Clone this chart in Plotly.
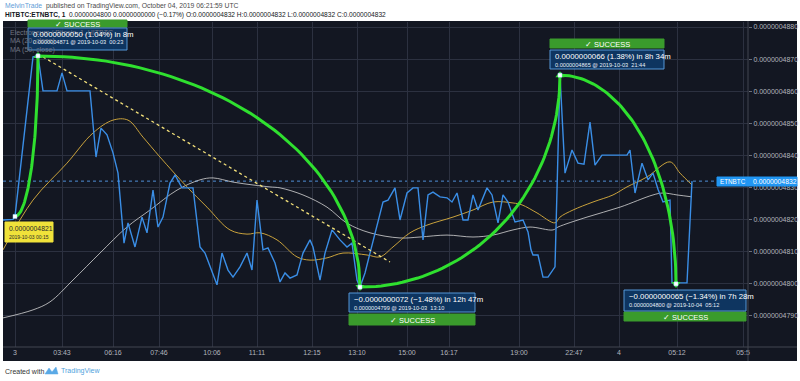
import numpy as np
import plotly.graph_objects as go

# ---------------- data ----------------
# x = bar position on the time axis, prices in units of 1e-10 BTC
price_x = [3, 13, 15, 33, 38, 43, 57, 62, 67, 90, 96, 101, 107, 113, 118, 124, 128, 135, 142, 147,
           153, 158, 163, 170, 175, 182, 193, 200, 205, 217, 222, 228, 233, 240, 247, 252, 257, 263,
           268, 275, 280, 285, 290, 297, 303, 310, 313, 320, 325, 332, 340, 347, 352, 357, 360, 365,
           370, 377, 383, 388, 395, 400, 407, 413, 418, 423, 428, 433, 440, 447, 452, 457, 463, 468,
           473, 478, 487, 492, 498, 503, 508, 515, 523, 528, 531, 533, 538, 543, 548, 555, 560, 565,
           572, 578, 584, 590, 595, 602, 627, 630, 635, 642, 648, 653, 658, 663, 670, 672, 687, 692]
price_e10 = [4819.9, 4820.1, 4821.0, 4870.7, 4871.0, 4860.1, 4860.1, 4865.7, 4860.1, 4860.1, 4839.5,
             4848.5, 4846.4, 4840.8, 4834.5, 4812.7, 4819.0, 4811.5, 4820.8, 4815.9, 4829.2, 4817.7,
             4820.8, 4831.4, 4833.9, 4829.9, 4829.9, 4811.5, 4809.6, 4799.7, 4809.6, 4804.3, 4802.1,
             4805.3, 4809.6, 4804.3, 4826.1, 4810.6, 4811.2, 4806.5, 4800.6, 4803.4, 4801.8, 4802.8,
             4809.6, 4813.7, 4811.5, 4801.2, 4809.6, 4816.8, 4813.7, 4811.5, 4812.7, 4801.2, 4799.0,
             4803.4, 4809.6, 4817.7, 4825.5, 4826.1, 4829.9, 4819.9, 4828.3, 4829.9, 4829.9, 4813.7,
             4827.7, 4828.6, 4827.1, 4826.8, 4825.5, 4828.3, 4819.9, 4819.9, 4827.7, 4823.0, 4829.9,
             4827.7, 4819.0, 4827.7, 4825.5, 4819.3, 4819.9, 4816.2, 4810.6, 4809.0, 4809.0, 4802.1,
             4802.1, 4805.3, 4865.0, 4834.5, 4841.7, 4837.6, 4837.3, 4850.4, 4837.0, 4840.1, 4840.1,
             4841.7, 4828.3, 4837.6, 4832.4, 4834.5, 4829.5, 4825.5, 4826.1, 4800.3, 4800.3, 4832.0]

ma20_x = [3, 33, 67, 93, 113, 128, 143, 160, 187, 207, 230, 247, 260, 277, 297, 310, 327, 343, 367,
          380, 393, 410, 427, 453, 473, 493, 513, 522, 537, 555, 560, 573, 593, 613, 627, 647, 670,
          680, 692]
ma20_e10 = [4810.6, 4826.1, 4837.6, 4847.0, 4851.0, 4851.0, 4845.7, 4839.5, 4830.2, 4823.9, 4816.8,
            4815.5, 4815.9, 4813.7, 4808.4, 4807.4, 4808.1, 4809.6, 4809.0, 4808.4, 4811.5, 4815.9,
            4818.3, 4820.8, 4823.0, 4825.5, 4825.2, 4824.6, 4822.1, 4819.0, 4820.8, 4823.0, 4825.5,
            4827.7, 4830.2, 4833.3, 4838.0, 4834.5, 4830.8]

ma50_x = [3, 33, 50, 73, 100, 127, 150, 177, 200, 213, 233, 253, 270, 280, 303, 327, 347, 370, 400,
          420, 447, 473, 493, 513, 530, 553, 558, 587, 620, 653, 663, 677, 692]
ma50_e10 = [4789.4, 4791.9, 4794.4, 4801.2, 4809.6, 4817.7, 4823.0, 4829.2, 4832.4, 4833.0, 4831.7,
            4830.8, 4830.2, 4829.9, 4827.7, 4823.9, 4818.9, 4815.9, 4814.3, 4814.6, 4815.2, 4814.6,
            4815.2, 4816.8, 4817.7, 4816.8, 4817.7, 4820.8, 4823.9, 4827.7, 4828.3, 4827.7, 4827.1]

# forecast points (start, target1, target2, target3, target4)
fc_x = [15, 38, 360, 560, 676]
fc_e10 = [4821, 4871, 4799, 4865, 4800]
fc_change = ["0.0000000050 (1.04%) in 8m", "\u22120.0000000072 (\u22121.48%) in 12h 47m",
             "0.0000000066 (1.38%) in 8h 34m", "\u22120.0000000065 (\u22121.34%) in 7h 28m"]
fc_info = ["0.0000004871 @ 2019-10-03  00:23", "0.0000004799 @ 2019-10-03  13:10",
           "0.0000004865 @ 2019-10-03  21:44", "0.0000004800 @ 2019-10-04  05:12"]

# dotted trend line
trend_x = [43, 390]
trend_e10 = [4870.7, 4806.8]

last_price_e10 = 4832

tick_pos = [15, 62, 113, 159, 212, 257, 312, 357, 407, 449, 519, 574, 619, 677, 743]
tick_text = ["3", "03:43", "06:16", "07:46", "10:06", "11:11", "12:15", "13:10", "15:00", "16:17",
             "19:00", "22:47", "4", "05:12", "05:5"]
price_ticks_e10 = [4790, 4800, 4810, 4820, 4830, 4840, 4850, 4860, 4870, 4880]

S = 1e-10
def sc(v):
    return [a * S for a in v]

# ---------------- layout geometry ----------------
W, H = 800, 381
L, R, T, B = 3, 748, 22, 347
def px(x):
    return (x - L) / (R - L)
def py(y):
    return (B - y) / (B - T)

BG = "#131722"
GRID = "#2c3140"
AX = "#b2b5be"
GREEN = "#2fe02f"
BOX_BLUE = "#0e3866"
BOX_EDGE = "#5aa2e6"
OK_GREEN = "#3a9b2c"
FONT = "Liberation Sans"

fig = go.Figure()

# moving averages
fig.add_trace(go.Scatter(x=ma50_x, y=sc(ma50_e10), mode="lines", line_shape="spline",
                         line=dict(color="#d6d6d6", width=0.8), name="MA (50, close)"))
fig.add_trace(go.Scatter(x=ma20_x, y=sc(ma20_e10), mode="lines", line_shape="spline",
                         line=dict(color="#c9a23c", width=1), name="MA (20, close)"))
# price
fig.add_trace(go.Scatter(x=price_x, y=sc(price_e10), mode="lines",
                         line=dict(color="#3a8ee6", width=1.4), name="ETNBTC"))

# trend line
fig.add_trace(go.Scatter(x=trend_x, y=sc(trend_e10), mode="lines",
                         line=dict(color="#f3e07a", width=1.3, dash="dot")))

# forecast arcs
t = np.linspace(0, np.pi / 2, 60)
for i in range(len(fc_x) - 1):
    x0, x1 = fc_x[i], fc_x[i + 1]
    y0, y1 = fc_e10[i], fc_e10[i + 1]
    ax = x0 + (x1 - x0) * np.sin(t)
    ay = y0 + (y1 - y0) * (1 - np.cos(t))
    fig.add_trace(go.Scatter(x=ax, y=ay * S, mode="lines",
                             line=dict(color=GREEN, width=3)))

# arrow heads and point markers
syms = ["triangle-up" if fc_e10[i + 1] > fc_e10[i] else "triangle-down" for i in range(len(fc_x) - 1)]
fig.add_trace(go.Scatter(x=fc_x[1:], y=sc(fc_e10[1:]), mode="markers",
                         marker=dict(symbol=syms, size=8, color=GREEN)))
fig.add_trace(go.Scatter(x=fc_x, y=sc(fc_e10), mode="markers",
                         marker=dict(symbol="square", size=4, color="white",
                                     line=dict(color="#9fd8ff", width=0.5))))

shapes = []
annotations = []

# dark chart background (incl. axis areas)
shapes.append(dict(type="rect", xref="paper", yref="paper", layer="below",
                   x0=px(3), x1=px(797), y0=py(361), y1=py(21),
                   fillcolor=BG, line=dict(width=0)))
# axis separators
shapes.append(dict(type="line", xref="paper", yref="paper", layer="above",
                   x0=px(748), x1=px(748), y0=py(361), y1=py(21),
                   line=dict(color="#434651", width=1)))
shapes.append(dict(type="line", xref="paper", yref="paper", layer="above",
                   x0=px(3), x1=px(797), y0=py(347), y1=py(347),
                   line=dict(color="#434651", width=1)))
# last price dotted line
shapes.append(dict(type="line", xref="paper", yref="y", layer="below",
                   x0=0, x1=1, y0=last_price_e10 * S, y1=last_price_e10 * S,
                   line=dict(color="#4f8fd6", width=1, dash="dot")))

def box(x0, x1, y0, y1, fill, edge, op=1.0):
    shapes.append(dict(type="rect", xref="paper", yref="paper", layer="above",
                       x0=px(x0), x1=px(x1), y0=py(y1), y1=py(y0),
                       fillcolor=fill, opacity=op, line=dict(color=edge, width=1)))

def text(x, y, s, size, color="white", anchor="left", bold=False):
    if bold:
        s = "<b>" + s + "</b>"
    annotations.append(dict(xref="paper", yref="paper", x=px(x), y=py(y), text=s,
                            showarrow=False, xanchor=anchor, yanchor="middle",
                            font=dict(family=FONT, size=size, color=color)))

# legend text (partly hidden behind the first forecast box, as in the original)
text(8, 32, "Electroneum / Bitcoin, 1, HITBTC", 7, "#6f7380")
text(8, 41, "MA (20, close)", 7, "#6f7380")
text(8, 50, "MA (50, close)", 7, "#6f7380")

# forecast boxes: (blue x0, x1, y0, y1), success (y0, y1)
boxes = [
    ((28, 127, 28, 50), (20, 27)),
    ((349, 475, 293, 312), (314, 325)),
    ((550, 664, 50, 69), (39, 48)),
    ((624, 746, 290, 311), (312, 321)),
]
for i, ((bx0, bx1, by0, by1), (gy0, gy1)) in enumerate(boxes):
    box(bx0, bx1, gy0, gy1, OK_GREEN, OK_GREEN)
    text((bx0 + bx1) / 2, (gy0 + gy1) / 2 + 0.5, "\u2713 SUCCESS", 7.5, "white", "center")
    box(bx0, bx1, by0, by1, BOX_BLUE, BOX_EDGE, 0.92)
    text(bx0 + 3, by0 + 6.5, fc_change[i], 7.8, "white")
    text(bx0 + 3, by0 + 14.5, fc_info[i], 5.6, "#e6eef8")

# yellow start label
box(5, 53, 222, 242, "#f0e23a", "#f0e23a")
text(7, 228, "0.0000004821", 6.8, "#2a2a2a")
text(7, 237, "2019-10-03 00:15", 5, "#2a2a2a")

# last price tag
box(717, 748, 177, 186, "#2196f3", "#2196f3")
box(748, 797, 177, 186, "#2196f3", "#2196f3")
text(732.5, 181.5, "ETNBTC", 6.3, "white", "center")
text(751, 181.5, "0.0000004832", 6.8, "white")

# header
annotations.append(dict(xref="paper", yref="paper", x=px(3), y=py(6), xanchor="left",
                        yanchor="middle", showarrow=False,
                        text="<span style='color:#5f9ed8'>MelvinTrade</span>  published on TradingView.com, October 04, 2019 06:21:59 UTC",
                        font=dict(family=FONT, size=6.8, color="#4a4a4a")))
annotations.append(dict(xref="paper", yref="paper", x=px(3), y=py(15.5), xanchor="left",
                        yanchor="middle", showarrow=False,
                        text="<b>HITBTC:ETNBTC, 1</b>  0.0000004800 0.0000000000 (\u22120.17%) O:0.0000004832 H:0.0000004832 L:0.0000004832 C:0.0000004832",
                        font=dict(family=FONT, size=6.6, color="#131722")))
# footer
annotations.append(dict(xref="paper", yref="paper", x=px(3), y=py(371), xanchor="left",
                        yanchor="middle", showarrow=False,
                        text="Created with", font=dict(family=FONT, size=7, color="#333333")))
shapes.append(dict(type="path", xref="paper", yref="paper", layer="above",
                   path=f"M {px(45)} {py(374)} L {px(49)} {py(368)} L {px(52)} {py(372)} L {px(56)} {py(367)} L {px(58)} {py(374)} Z",
                   fillcolor="#5aa9e6", line=dict(color="#5aa9e6", width=0.5)))
annotations.append(dict(xref="paper", yref="paper", x=px(59), y=py(371), xanchor="left",
                        yanchor="middle", showarrow=False,
                        text="TradingView", font=dict(family=FONT, size=7, color="#4f9fdc")))

fig.update_layout(
    width=W, height=H, autosize=False,
    margin=dict(l=L, r=W - R, t=T, b=H - B, pad=0),
    paper_bgcolor="white", plot_bgcolor=BG,
    showlegend=False, hovermode=False,
    shapes=shapes, annotations=annotations,
    xaxis=dict(range=[L, R], tickmode="array", tickvals=tick_pos, ticktext=tick_text,
               showgrid=True, gridcolor=GRID, gridwidth=1, zeroline=False, showline=False,
               ticks="", tickfont=dict(family=FONT, size=7, color=AX), fixedrange=True),
    yaxis=dict(range=[4780.34 * S, 4881.56 * S], side="right", tickmode="array",
               tickvals=sc(price_ticks_e10), tickformat=".10f",
               showgrid=True, gridcolor=GRID, gridwidth=1, zeroline=False, showline=False,
               ticks="outside", ticklen=3, tickcolor="#6a6d78",
               tickfont=dict(family=FONT, size=7, color=AX), fixedrange=True),
)

fig.write_html("out.html")
